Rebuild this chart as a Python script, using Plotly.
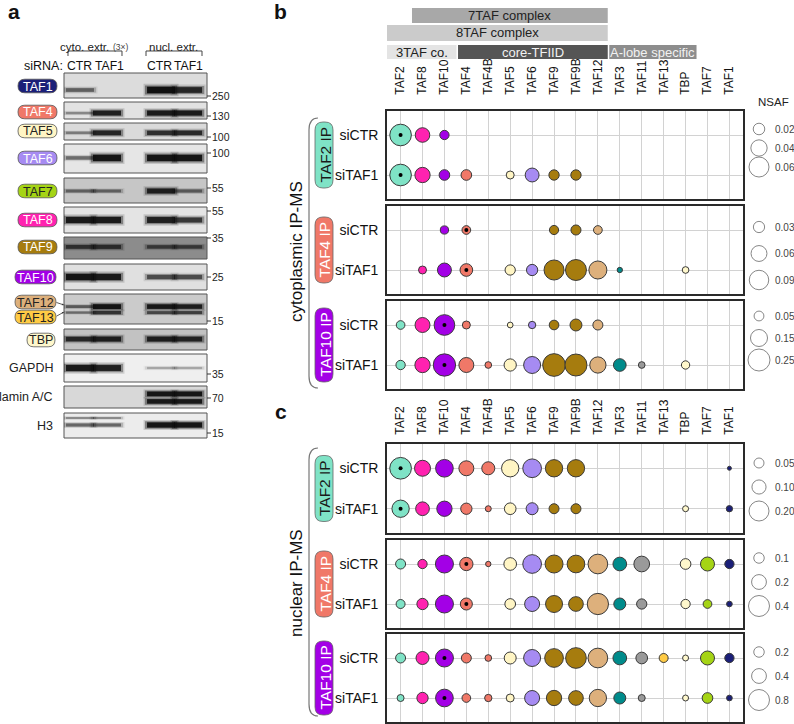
import plotly.graph_objects as go

W, H = 794, 724
FONT = "Liberation Sans, Arial, Helvetica, sans-serif"

# ---------------- panel b / c data ----------------
taf_cols = ["TAF2", "TAF8", "TAF10", "TAF4", "TAF4B", "TAF5", "TAF6", "TAF9",
            "TAF9B", "TAF12", "TAF3", "TAF11", "TAF13", "TBP", "TAF7", "TAF1"]
taf_colors = ["#7FE3C6", "#FF22B0", "#A300E6", "#F07868", "#F07868", "#FFF5C4",
              "#A68BF2", "#A67C0E", "#A67C0E", "#DDB07C", "#008B8B", "#9A9A9A",
              "#FFCB45", "#FFF8CC", "#A5D415", "#1B1F78"]
conditions = ["siCTR", "siTAF1"]
N = None

# NSAF values (cytoplasmic IP-MS)
cyto_taf2ip_ctr = [0.070, 0.032, 0.013, N, N, N, N, N, N, N, N, N, N, N, N, N]
cyto_taf2ip_taf1 = [0.070, 0.035, 0.017, 0.017, N, 0.0096, 0.029, 0.016, 0.016, N, N, N, N, N, N, N]
cyto_taf4ip_ctr = [N, N, 0.016, 0.018, N, N, N, 0.020, 0.024, 0.018, N, N, N, N, N, N]
cyto_taf4ip_taf1 = [N, 0.015, 0.046, 0.038, N, 0.025, 0.030, 0.095, 0.104, 0.077, 0.0067, N, N, 0.0106, N, N]
cyto_taf10ip_ctr = [0.039, 0.116, 0.221, 0.033, N, 0.017, 0.028, 0.048, 0.074, 0.052, N, N, N, N, N, N]
cyto_taf10ip_taf1 = [0.045, 0.121, 0.257, 0.116, 0.023, 0.078, 0.149, 0.266, 0.250, 0.137, 0.083, 0.023, N, 0.036, N, N]
# NSAF values (nuclear IP-MS)
nucl_taf2ip_ctr = [0.235, 0.128, 0.156, 0.112, 0.085, 0.150, 0.175, 0.150, 0.150, N, N, N, N, N, N, 0.008]
nucl_taf2ip_taf1 = [0.150, 0.094, 0.117, 0.064, 0.018, 0.068, 0.072, 0.050, 0.050, N, N, N, N, 0.018, N, 0.020]
nucl_taf4ip_ctr = [0.091, 0.078, 0.294, 0.160, 0.026, 0.146, 0.317, 0.294, 0.284, 0.352, 0.170, 0.224, N, 0.104, 0.178, 0.078]
nucl_taf4ip_taf1 = [0.073, 0.116, 0.294, 0.131, N, 0.104, 0.204, 0.262, 0.196, 0.410, 0.131, 0.096, N, 0.078, 0.069, 0.029]
nucl_taf10ip_ctr = [0.181, 0.307, 0.588, 0.181, 0.081, 0.261, 0.524, 0.634, 0.777, 0.704, 0.340, 0.248, 0.147, 0.065, 0.356, 0.157]
nucl_taf10ip_taf1 = [0.089, 0.232, 0.568, 0.137, 0.097, 0.116, 0.408, 0.425, 0.392, 0.543, 0.261, 0.089, N, 0.065, 0.208, 0.059]

# size legends
leg_cyto_taf2 = [0.02, 0.04, 0.06]
leg_cyto_taf2_txt = ["0.02", "0.04", "0.06"]
leg_cyto_taf4 = [0.03, 0.06, 0.09]
leg_cyto_taf4_txt = ["0.03", "0.06", "0.09"]
leg_cyto_taf10 = [0.05, 0.15, 0.25]
leg_cyto_taf10_txt = ["0.05", "0.15", "0.25"]
leg_nucl_taf2 = [0.05, 0.10, 0.20]
leg_nucl_taf2_txt = ["0.05", "0.10", "0.20"]
leg_nucl_taf4 = [0.1, 0.2, 0.4]
leg_nucl_taf4_txt = ["0.1", "0.2", "0.4"]
leg_nucl_taf10 = [0.2, 0.4, 0.8]
leg_nucl_taf10_txt = ["0.2", "0.4", "0.8"]

# complex header bars (first / last column index)
complex_names = ["7TAF complex", "8TAF complex", "3TAF co.", "core-TFIID", "A-lobe specific"]
complex_span = [(0.52, 9.45), (-0.62, 9.45), (-0.62, 2.55), (2.62, 9.45), (9.52, 13.5)]

# ---------------- panel a data (western blot) ----------------
blot_names = ["TAF1", "TAF4", "TAF5", "TAF6", "TAF7", "TAF8", "TAF9", "TAF10",
              "TAF12/13", "TBP", "GAPDH", "lamin A/C", "H3"]
lane_names = ["cyto CTR", "cyto TAF1", "nucl CTR", "nucl TAF1"]
lane_index = [0, 1, 3, 4]
band_pos = [[0.68], [0.65], [0.58], [0.48], [0.52], [0.5], [0.45], [0.5],
            [0.42, 0.62], [0.48], [0.5], [0.36, 0.7], [0.2, 0.48]]
band_int = [
    [[0.35, 0.0, 1.0, 0.8]],
    [[0.15, 0.85, 0.9, 0.9]],
    [[0.2, 0.8, 0.7, 0.75]],
    [[0.3, 0.95, 0.95, 0.95]],
    [[0.3, 0.3, 0.85, 0.35]],
    [[0.9, 0.9, 0.85, 0.65]],
    [[0.55, 0.6, 0.45, 0.45]],
    [[0.95, 0.9, 0.5, 0.5]],
    [[0.35, 0.95, 0.9, 0.85], [0.25, 0.65, 0.5, 0.55]],
    [[0.75, 0.85, 0.85, 0.8]],
    [[0.9, 0.85, 0.04, 0.04]],
    [[0.0, 0.0, 0.95, 0.95], [0.0, 0.0, 0.9, 0.9]],
    [[0.2, 0.2, 0.0, 0.0], [0.35, 0.35, 0.95, 0.95]],
]
band_thick = [[6], [5], [5], [6], [5], [6], [5], [6], [4.5, 4], [5], [6], [4.5, 4.5], [3.5, 5]]
blot_bg = ["#dcdcdc", "#e2e2e2", "#dadada", "#e6e6e6", "#c6c6c6", "#e4e4e4", "#8c8c8c",
           "#e0e0e0", "#cbcbcb", "#c2c2c2", "#efefef", "#d8d8d8", "#ececec"]
kda_labels = ["250", "130", "100", "100", "55", "55", "35", "25", "15", "35", "70", "15"]

protein_tags = ["TAF1", "TAF4", "TAF5", "TAF6", "TAF7", "TAF8", "TAF9", "TAF10", "TAF12", "TAF13", "TBP"]
protein_tag_fill = ["#1B1F78", "#F07868", "#FFF5C4", "#A68BF2", "#A5D415", "#FF22B0",
                    "#A67C0E", "#A300E6", "#DDB07C", "#FFCB45", "#FFF8CC"]
protein_tag_text = ["white", "white", "#222", "white", "#222", "white",
                    "white", "white", "#222", "#222", "#222"]
plain_labels = ["GAPDH", "lamin A/C", "H3"]

# ---------------- helpers ----------------
layout = dict(width=W, height=H, margin=dict(l=0, r=0, t=0, b=0),
              paper_bgcolor="white", plot_bgcolor="rgba(0,0,0,0)",
              showlegend=False, font=dict(family=FONT, color="#111"))
shapes, annotations = [], []
fig = go.Figure()
n_axes = [0]


def add_axes(x0, x1, y0, y1, xkw, ykw):
    n_axes[0] += 1
    n = n_axes[0]
    s = "" if n == 1 else str(n)
    xid, yid = "x" + s, "y" + s
    layout["xaxis" + s] = dict(domain=[x0 / W, x1 / W], anchor=yid, fixedrange=True, **xkw)
    layout["yaxis" + s] = dict(domain=[1 - y1 / H, 1 - y0 / H], anchor=xid, fixedrange=True, **ykw)
    return xid, yid


def P(x, y):
    return f"{x / W:.5f},{1 - y / H:.5f}"


def pill(x0, y0, x1, y1, r, fill, line="#555", lw=0.8):
    path = ("M " + P(x0 + r, y0) + " L " + P(x1 - r, y0) + " Q " + P(x1, y0) + " " + P(x1, y0 + r)
            + " L " + P(x1, y1 - r) + " Q " + P(x1, y1) + " " + P(x1 - r, y1)
            + " L " + P(x0 + r, y1) + " Q " + P(x0, y1) + " " + P(x0, y1 - r)
            + " L " + P(x0, y0 + r) + " Q " + P(x0, y0) + " " + P(x0 + r, y0) + " Z")
    shapes.append(dict(type="path", xref="paper", yref="paper", path=path,
                       fillcolor=fill, line=dict(color=line, width=lw)))


def text(x, y, s, size, color="#111", xanchor="center", angle=0, bold=False):
    if bold:
        s = "<b>" + s + "</b>"
    annotations.append(dict(x=x / W, y=1 - y / H, xref="paper", yref="paper", text=s,
                            showarrow=False, font=dict(size=size, color=color, family=FONT),
                            xanchor=xanchor, yanchor="middle", textangle=angle, borderpad=0))


def hline(x0, y0, x1, y1, color="#333", w=1):
    shapes.append(dict(type="line", xref="paper", yref="paper", x0=x0 / W, y0=1 - y0 / H,
                       x1=x1 / W, y1=1 - y1 / H, line=dict(color=color, width=w)))


# ---------------- panel a ----------------
text(14, 12, "a", 21, bold=True)
text(84, 47, "cyto. extr.", 11.5, "#222")
text(121, 47, "(3×)", 8.5, "#444")
text(173, 47, "nucl. extr.", 11.5, "#222")
for bx0, bx1 in [(68, 122), (146, 202)]:
    shapes.append(dict(type="path", xref="paper", yref="paper",
                       path="M " + P(bx0, 56) + " L " + P(bx0, 51) + " L " + P(bx1, 51) + " L " + P(bx1, 56),
                       line=dict(color="#444", width=1)))
text(43, 66, "siRNA:", 12.5)
for lx, lt in zip([79, 109, 159, 188], ["CTR", "TAF1", "CTR", "TAF1"]):
    text(lx, 66, lt, 12.2)

blot_rows = [(73, 98), (102, 119), (123, 140), (144, 173), (178, 203), (207, 233), (237, 259),
             (264, 290), (294, 324), (329, 350), (354, 382), (386, 408), (413, 438)]
kda_y = [96, 116, 137, 153, 188, 211, 238, 277, 321, 374, 398, 433]

for bi, (t0, t1) in enumerate(blot_rows):
    bx, by = add_axes(64, 207, t0, t1, dict(range=[-0.59, 4.7], visible=False),
                      dict(range=[1, 0], visible=False))
    shapes.append(dict(type="rect", xref=bx + " domain", yref=by + " domain", x0=0, x1=1, y0=0, y1=1,
                       fillcolor=blot_bg[bi], line=dict(color="#555", width=1), layer="below"))
    xs, ys, th_l, it_l = [], [], [], []
    for ri, pos in enumerate(band_pos[bi]):
        for li, inten in enumerate(band_int[bi][ri]):
            if inten <= 0:
                continue
            xs.append(lane_index[li])
            ys.append(pos)
            th_l.append(band_thick[bi][ri] * (0.35 + 0.75 * inten))
            it_l.append(inten)
    if xs:
        for wf, af, size in [(1.9, 0.16, 25), (1.4, 0.4, 23), (1.0, 0.95, 20)]:
            fig.add_trace(go.Scatter(
                x=xs, y=ys, mode="markers", xaxis=bx, yaxis=by, hoverinfo="skip",
                marker=dict(symbol="line-ew", size=size, color="rgba(0,0,0,0)",
                            line=dict(width=[t * wf for t in th_l],
                                      color=[f"rgba(12,12,12,{min(1, af * (0.2 + 0.8 * i)):.3f})" for i in it_l]))))

for lab, ky in zip(kda_labels, kda_y):
    hline(207, ky, 211, ky, "#333", 1)
    text(211, ky, lab, 10.5, "#222", xanchor="left")

tag_y = [86, 112, 131, 158, 191, 220, 247, 277, 302, 317, 340]
for name, fill, tc, ty in zip(protein_tags, protein_tag_fill, protein_tag_text, tag_y):
    if name == "TBP":
        x0, x1 = 27, 55
    elif len(name) == 5:
        x0, x1 = 15, 56
    else:
        x0, x1 = 18, 57
    pill(x0, ty - 6.8, x1, ty + 6.8, 6.8, fill)
    text((x0 + x1) / 2, ty + 0.5, name, 12.5, tc)
annotations.append(dict(x=64 / W, y=1 - 305 / H, xref="paper", yref="paper", ax=-9, ay=-3,
                        axref="pixel", ayref="pixel", text="", showarrow=True, arrowhead=2,
                        arrowsize=0.5, arrowwidth=0.8, arrowcolor="#333"))
annotations.append(dict(x=64 / W, y=1 - 312 / H, xref="paper", yref="paper", ax=-9, ay=5,
                        axref="pixel", ayref="pixel", text="", showarrow=True, arrowhead=2,
                        arrowsize=0.5, arrowwidth=0.8, arrowcolor="#333"))
for lab, ly in zip(plain_labels, [368, 397, 426]):
    text(54, ly, lab, 12.5, "#222", xanchor="right")

# ---------------- panels b / c ----------------
text(280, 12, "b", 21, bold=True)
text(281, 411, "c", 21, bold=True)

panels = [
    dict(ctr=cyto_taf2ip_ctr, ko=cyto_taf2ip_taf1, bait="TAF2", ip="TAF2 IP", ipfill="#7FE3C6", iptxt="#1a1a1a",
         leg=leg_cyto_taf2, legt=leg_cyto_taf2_txt, vref=0.06, dref=20, top=111, bot=199, ly=(129, 167),
         labels=True, standoff=12, half=33),
    dict(ctr=cyto_taf4ip_ctr, ko=cyto_taf4ip_taf1, bait="TAF4", ip="TAF4 IP", ipfill="#F07868", iptxt="white",
         leg=leg_cyto_taf4, legt=leg_cyto_taf4_txt, vref=0.09, dref=19.5, top=206, bot=294, ly=(227, 280),
         labels=False, standoff=0, half=33),
    dict(ctr=cyto_taf10ip_ctr, ko=cyto_taf10ip_taf1, bait="TAF10", ip="TAF10 IP", ipfill="#A300E6", iptxt="white",
         leg=leg_cyto_taf10, legt=leg_cyto_taf10_txt, vref=0.25, dref=22, top=301, bot=389, ly=(316, 360),
         labels=False, standoff=0, half=37),
    dict(ctr=nucl_taf2ip_ctr, ko=nucl_taf2ip_taf1, bait="TAF2", ip="TAF2 IP", ipfill="#7FE3C6", iptxt="#1a1a1a",
         leg=leg_nucl_taf2, legt=leg_nucl_taf2_txt, vref=0.20, dref=20, top=444, bot=533, ly=(463, 511),
         labels=True, standoff=5, half=33),
    dict(ctr=nucl_taf4ip_ctr, ko=nucl_taf4ip_taf1, bait="TAF4", ip="TAF4 IP", ipfill="#F07868", iptxt="white",
         leg=leg_nucl_taf4, legt=leg_nucl_taf4_txt, vref=0.4, dref=21, top=540, bot=628, ly=(558, 606),
         labels=False, standoff=0, half=33),
    dict(ctr=nucl_taf10ip_ctr, ko=nucl_taf10ip_taf1, bait="TAF10", ip="TAF10 IP", ipfill="#A300E6", iptxt="white",
         leg=leg_nucl_taf10, legt=leg_nucl_taf10_txt, vref=0.8, dref=21, top=634, bot=722, ly=(652, 700),
         labels=False, standoff=0, half=37),
]

first_x = None
for p in panels:
    xkw = dict(type="category", categoryorder="array", categoryarray=taf_cols, range=[-0.62, 15.62],
               showgrid=True, gridcolor="#d2d2d2", gridwidth=1, showline=True, mirror=True,
               linecolor="#2a2a2a", linewidth=1.6, ticks="", zeroline=False,
               showticklabels=p["labels"], side="top", tickangle=-90,
               tickfont=dict(size=12, color="#111", family=FONT), ticklabelstandoff=p["standoff"])
    ykw = dict(type="category", categoryorder="array", categoryarray=conditions, range=[1.6, -0.6],
               showgrid=True, gridcolor="#d2d2d2", gridwidth=1, showline=True, mirror=True,
               linecolor="#2a2a2a", linewidth=1.6, ticks="", zeroline=False,
               tickfont=dict(size=14, color="#111", family=FONT), ticklabelstandoff=4)
    xid, yid = add_axes(387, 743, p["top"], p["bot"], xkw, ykw)
    if first_x is None:
        first_x = xid
    sref = 2.0 * p["vref"] / p["dref"] ** 2
    xs, ys, ss, cs = [], [], [], []
    for cond, vals in zip(conditions, [p["ctr"], p["ko"]]):
        for col, colr, v in zip(taf_cols, taf_colors, vals):
            if v is not None:
                xs.append(col)
                ys.append(cond)
                ss.append(v)
                cs.append(colr)
    fig.add_trace(go.Scatter(x=xs, y=ys, mode="markers", xaxis=xid, yaxis=yid, hoverinfo="skip",
                             marker=dict(size=ss, sizemode="area", sizeref=sref, sizemin=0, color=cs,
                                         opacity=1, line=dict(color="#3a3a3a", width=1))))
    fig.add_trace(go.Scatter(x=[p["bait"]] * 2, y=conditions, mode="markers", xaxis=xid, yaxis=yid,
                             hoverinfo="skip", marker=dict(size=4, color="black", line=dict(width=0))))
    # size legend
    step = (p["ly"][1] - p["ly"][0]) / 2
    lx, lyid = add_axes(748, 770, p["ly"][0] - step / 2, p["ly"][1] + step / 2,
                        dict(range=[-1, 1], visible=False),
                        dict(type="category", categoryorder="array", categoryarray=p["legt"],
                             range=[2.5, -0.5], side="right", showgrid=False, showline=False,
                             zeroline=False, ticks="", tickfont=dict(size=10, color="#444", family=FONT),
                             ticklabelstandoff=4))
    fig.add_trace(go.Scatter(x=[0, 0, 0], y=p["legt"], mode="markers", xaxis=lx, yaxis=lyid,
                             hoverinfo="skip", cliponaxis=False,
                             marker=dict(size=p["leg"], sizemode="area", sizeref=sref, color="white",
                                         line=dict(color="#555", width=1))))
    # IP tag
    cy = (p["top"] + p["bot"]) / 2
    pill(315, cy - p["half"], 333, cy + p["half"], 8, p["ipfill"], "#666", 0.8)
    text(324.5, cy, p["ip"], 15.5, p["iptxt"], angle=-90)

text(773, 102, "NSAF", 11.5, "#222")

# complex header bars over panel b
bar_rows = [(8, 23), (25, 41), (45, 59), (45, 59), (45, 59)]
bar_fill = ["#a8a8a8", "#cbcbcb", "#e4e4e4", "#555555", "#8d8d8d"]
bar_txt = ["#222", "#222", "#222", "#f2f2f2", "#f2f2f2"]
for name, (c0, c1), (r0, r1), fc, tc in zip(complex_names, complex_span, bar_rows, bar_fill, bar_txt):
    shapes.append(dict(type="rect", xref=first_x, yref="paper", x0=c0, x1=c1,
                       y0=1 - r1 / H, y1=1 - r0 / H, fillcolor=fc, line=dict(width=0)))
    annotations.append(dict(x=(c0 + c1) / 2, y=1 - (r0 + r1) / 2 / H, xref=first_x, yref="paper",
                            text=name, showarrow=False, font=dict(size=13, color=tc, family=FONT),
                            xanchor="center", yanchor="middle", borderpad=0))

# left brackets and section titles
for (t0, t1) in [(118, 388), (448, 716)]:
    shapes.append(dict(type="path", xref="paper", yref="paper",
                       path="M " + P(318, t0) + " Q " + P(309, t0) + " " + P(309, t0 + 12)
                       + " L " + P(309, t1 - 12) + " Q " + P(309, t1) + " " + P(318, t1),
                       line=dict(color="#777", width=1.2)))
text(296, 252, "cytoplasmic IP-MS", 17, "#111", angle=-90)
text(296, 583, "nuclear IP-MS", 17, "#111", angle=-90)

layout["shapes"] = shapes
layout["annotations"] = annotations
fig.update_layout(**layout)
fig.write_html("out.html", config={"displayModeBar": False},
               post_script="document.body.style.margin='0px';document.body.style.overflow='hidden';")
